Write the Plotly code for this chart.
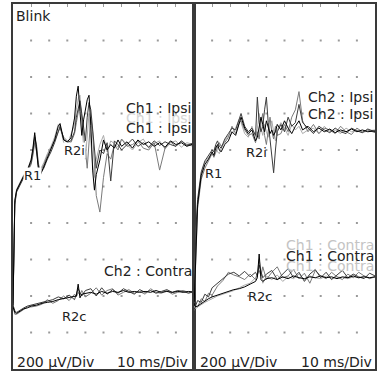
import plotly.graph_objects as go
from plotly.subplots import make_subplots

# ---- time bases (ms) ----
T_IPSI = [0, 0.5, 1, 2, 4, 6, 8, 10, 11, 12, 13, 14, 15, 17, 19, 21, 23, 25, 26, 28, 30, 32, 34,
          35, 36, 37, 38, 39, 40, 41, 42, 43, 44, 45, 46, 48, 50, 52, 54, 56, 58, 60,
          63, 66, 69, 72, 75, 78, 81, 84, 87, 90, 93, 96, 100]
T_CONTRA = [0, 1, 2, 4, 6, 8, 10, 13, 16, 19, 22, 25, 28, 31, 34, 35, 36, 37, 38, 40,
            43, 46, 49, 52, 55, 58, 61, 64, 67, 70, 73, 76, 79, 82, 85, 88, 91, 94, 97, 100]

# ---- left panel: Ch1 ipsi sweeps (uV) ----
L_IPSI_1 = [350, 760, 925, 980, 1020, 1060, 1090, 1145, 1210, 1295, 1200, 1100, 1060,
            1110, 1160, 1200, 1255, 1330, 1345, 1255, 1245, 1265, 1375,
            1495, 1550, 1410, 1280, 1365, 1430, 1475, 1500, 1335, 1090, 980, 1065,
            1145, 1255, 1200, 1230, 1210, 1255, 1220,
            1245, 1210, 1255, 1230, 1245, 1220, 1240, 1215, 1250, 1230, 1240, 1220, 1235]
L_IPSI_2 = [340, 700, 900, 970, 1010, 1050, 1085, 1130, 1190, 1270, 1220, 1120, 1070,
            1100, 1150, 1190, 1240, 1310, 1330, 1260, 1240, 1250, 1300,
            1380, 1420, 1470, 1400, 1320, 1250, 1380, 1460, 1420, 1300, 1180, 1100,
            1200, 1180, 1240, 1030, 1250, 1230, 1200,
            1230, 1260, 1220, 1240, 1215, 1250, 1225, 1245, 1230, 1220, 1250, 1225, 1240]
L_IPSI_3 = [360, 720, 910, 975, 1015, 1055, 1080, 1120, 1170, 1240, 1190, 1110, 1080,
            1120, 1170, 1210, 1250, 1300, 1320, 1270, 1250, 1240, 1290,
            1350, 1400, 1460, 1380, 1300, 1200, 1100, 1250, 1380, 1300, 1150, 950,
            860, 1050, 1180, 1150, 1230, 1200, 1260,
            1220, 1230, 1250, 1210, 1200, 1240, 1090, 1210, 1245, 1220, 1250, 1230, 1220]
L_IPSI_4 = [345, 740, 915, 985, 1025, 1065, 1095, 1150, 1200, 1280, 1230, 1130, 1090,
            1130, 1180, 1220, 1270, 1340, 1330, 1240, 1230, 1280, 1340,
            1420, 1480, 1500, 1350, 1220, 1150, 1300, 1400, 1250, 1120, 1050, 1150,
            1230, 1280, 1190, 1250, 1235, 1215, 1260,
            1230, 1200, 1240, 1260, 1210, 1235, 1250, 1205, 1240, 1250, 1215, 1240, 1230]

# ---- left panel: Ch2 contra sweeps (uV) ----
L_CONTRA_1 = [340, 310, 305, 320, 330, 335, 345, 350, 360, 365, 370, 380, 385, 390, 395,
              400, 465, 390, 410, 415, 420, 410, 425, 415, 425, 420, 430, 420, 425, 420,
              425, 420, 430, 420, 425, 420, 425, 420, 425, 422]
L_CONTRA_2 = [350, 320, 310, 325, 335, 345, 350, 360, 365, 375, 380, 395, 385, 405, 380,
              410, 440, 420, 400, 430, 440, 400, 445, 410, 435, 415, 440, 425, 410, 435,
              420, 430, 415, 425, 435, 420, 430, 425, 415, 425]
L_CONTRA_3 = [345, 300, 300, 315, 325, 340, 340, 345, 355, 380, 360, 375, 400, 375, 410,
              395, 420, 405, 430, 395, 415, 445, 405, 430, 440, 405, 420, 435, 415, 425,
              410, 440, 420, 415, 430, 410, 420, 430, 420, 418]

# ---- right panel: Ch2 ipsi sweeps (uV) ----
R_IPSI_1 = [330, 500, 700, 900, 1060, 1120, 1150, 1190, 1170, 1210, 1230, 1200, 1190,
            1230, 1250, 1300, 1280, 1340, 1380, 1320, 1290, 1310, 1250,
            1270, 1330, 1380, 1340, 1300, 1360, 1320, 1290, 1310, 1280, 1300, 1340,
            1310, 1360, 1320, 1290, 1330, 1360, 1310,
            1330, 1300, 1320, 1300, 1315, 1295, 1310, 1300, 1315, 1300, 1310, 1300, 1305]
R_IPSI_2 = [340, 560, 760, 930, 1080, 1140, 1170, 1200, 1190, 1230, 1250, 1220, 1210,
            1260, 1290, 1320, 1310, 1380, 1400, 1330, 1300, 1320, 1280,
            1490, 1350, 1300, 1330, 1420, 1490, 1350, 1250, 1150, 1075, 1200, 1300,
            1340, 1300, 1380, 1330, 1350, 1450, 1350,
            1320, 1290, 1330, 1310, 1295, 1320, 1300, 1290, 1320, 1305, 1295, 1315, 1300]
R_IPSI_3 = [320, 480, 680, 880, 1040, 1100, 1140, 1180, 1160, 1190, 1210, 1240, 1220,
            1240, 1270, 1330, 1290, 1350, 1360, 1310, 1280, 1290, 1240,
            1300, 1260, 1350, 1400, 1280, 1230, 1320, 1380, 1300, 1260, 1330, 1280,
            1290, 1340, 1300, 1380, 1420, 1520, 1360,
            1300, 1340, 1290, 1320, 1310, 1290, 1330, 1300, 1285, 1320, 1300, 1310, 1295]
R_IPSI_4 = [335, 520, 720, 910, 1070, 1130, 1160, 1180, 1200, 1220, 1190, 1180, 1210,
            1250, 1280, 1290, 1320, 1370, 1350, 1290, 1270, 1330, 1270,
            1320, 1400, 1320, 1280, 1340, 1300, 1270, 1330, 1360, 1300, 1250, 1310,
            1350, 1320, 1280, 1340, 1310, 1330, 1290,
            1310, 1320, 1290, 1330, 1300, 1310, 1290, 1320, 1300, 1310, 1295, 1305, 1310]

# ---- right panel: Ch1 contra sweeps (uV) ----
R_CONTRA_1 = [360, 340, 345, 360, 375, 385, 395, 405, 415, 425, 435, 440, 450, 465, 480,
              500, 630, 490, 480, 495, 500, 490, 505, 495, 510, 500, 495, 505, 500, 510,
              500, 505, 495, 505, 500, 510, 500, 505, 500, 505]
R_CONTRA_2 = [370, 350, 375, 365, 410, 395, 445, 470, 500, 520, 530, 510, 535, 505, 530,
              510, 570, 530, 500, 520, 540, 490, 520, 550, 500, 530, 480, 520, 545, 500,
              530, 490, 515, 540, 500, 520, 505, 495, 525, 510]
R_CONTRA_3 = [355, 345, 340, 385, 370, 415, 405, 455, 485, 530, 515, 505, 490, 520, 490,
              520, 540, 510, 560, 490, 530, 560, 500, 510, 545, 495, 525, 470, 540, 510,
              495, 530, 505, 490, 520, 500, 530, 510, 495, 505]
R_CONTRA_4 = [345, 330, 340, 355, 365, 375, 385, 400, 410, 420, 430, 445, 460, 470, 500,
              520, 600, 540, 470, 510, 490, 515, 480, 505, 495, 520, 490, 510, 500, 495,
              510, 495, 505, 500, 495, 505, 500, 510, 500, 505]

# ---- grid (10 ms / 200 uV divisions) ----
GRID_T = [10, 20, 30, 40, 50, 60, 70, 80, 90]
GRID_UV = [200, 400, 600, 800, 1000, 1200, 1400, 1600, 1800]

SHADES = ["#000000", "#3c3c3c", "#7a7a7a", "#ababab"]
FONT = "DejaVu Sans"

fig = make_subplots(rows=1, cols=2, horizontal_spacing=0)

def add_group(col, t, sweeps):
    for i in range(len(sweeps) - 1, -1, -1):
        fig.add_trace(go.Scatter(x=t, y=sweeps[i], mode="lines",
                                 line=dict(color=SHADES[i], width=1),
                                 hoverinfo="skip", showlegend=False), row=1, col=col)

for col in (1, 2):
    fig.add_trace(go.Scatter(x=[a for a in GRID_T for b in GRID_UV],
                             y=[b for a in GRID_T for b in GRID_UV],
                             mode="markers",
                             marker=dict(symbol="square", size=2, color="#9a9a9a"),
                             hoverinfo="skip", showlegend=False), row=1, col=col)

add_group(1, T_IPSI, [L_IPSI_1, L_IPSI_2, L_IPSI_3, L_IPSI_4])
add_group(1, T_CONTRA, [L_CONTRA_1, L_CONTRA_2, L_CONTRA_3])
add_group(2, T_IPSI, [R_IPSI_1, R_IPSI_2, R_IPSI_3, R_IPSI_4])
add_group(2, T_CONTRA, [R_CONTRA_1, R_CONTRA_2, R_CONTRA_3, R_CONTRA_4])

ann = []
def text(xr, x, y, s, size=14, color="#222222", xanchor="left", bg=None):
    d = dict(xref=xr, yref="y" if xr == "x" else "y2", x=x, y=y, text=s,
             showarrow=False, xanchor=xanchor, yanchor="middle",
             font=dict(family=FONT, size=size, color=color))
    if bg:
        d["bgcolor"] = bg
        d["borderpad"] = 0
    ann.append(d)

# left panel
text("x", 0.6, 1935, "Blink")
text("x", 61.3, 1375, "Ch1 : Ipsi", color="#d4d4d4")
text("x", 61.3, 1430, "Ch1 : Ipsi")
text("x", 61.3, 1320, "Ch1 : Ipsi")
text("x", 10.5, 1058, "R1", size=13, xanchor="center", bg="white")
text("x", 33.7, 1200, "R2i", size=13, xanchor="center", bg="white")
text("x", 33.7, 290, "R2c", size=13, xanchor="center")
text("x", 49.2, 537, "Ch2 : Contra")
text("x", 1.0, 40, "200 µV/Div")
text("x", 98.0, 40, "10 ms/Div", xanchor="right")
# right panel
text("x2", 61.9, 1490, "Ch2 : Ipsi")
text("x2", 61.9, 1397, "Ch2 : Ipsi")
text("x2", 49.7, 680, "Ch1 : Contra", color="#c4c4c4")
text("x2", 49.7, 565, "Ch1 : Contra", color="#c4c4c4")
text("x2", 49.7, 619, "Ch1 : Contra")
text("x2", 11.0, 1074, "R1", size=13, xanchor="center")
text("x2", 34.8, 1189, "R2i", size=13, xanchor="center")
text("x2", 36.5, 400, "R2c", size=13, xanchor="center")
text("x2", 2.2, 40, "200 µV/Div")
text("x2", 99.4, 40, "10 ms/Div", xanchor="right")

axis_common = dict(showgrid=False, zeroline=False, showticklabels=False,
                   showline=True, linecolor="#3a3a3a", linewidth=2, mirror=True)
for i in (1, 2):
    fig.update_xaxes(range=[0, 100], side="top", ticks="inside", ticklen=3,
                     tickcolor="#9a9a9a", tickvals=GRID_T, **axis_common, row=1, col=i)
    fig.update_yaxes(range=[0, 2000], ticks="", **axis_common, row=1, col=i)

fig.update_layout(width=380, height=376,
                  margin=dict(l=13, r=5, t=4, b=7),
                  paper_bgcolor="white", plot_bgcolor="white",
                  annotations=ann, showlegend=False,
                  font=dict(family=FONT))

fig.write_html("out.html", config={"displayModeBar": False, "staticPlot": True},
               post_script="document.body.style.margin='0';document.body.style.overflow='hidden';")
